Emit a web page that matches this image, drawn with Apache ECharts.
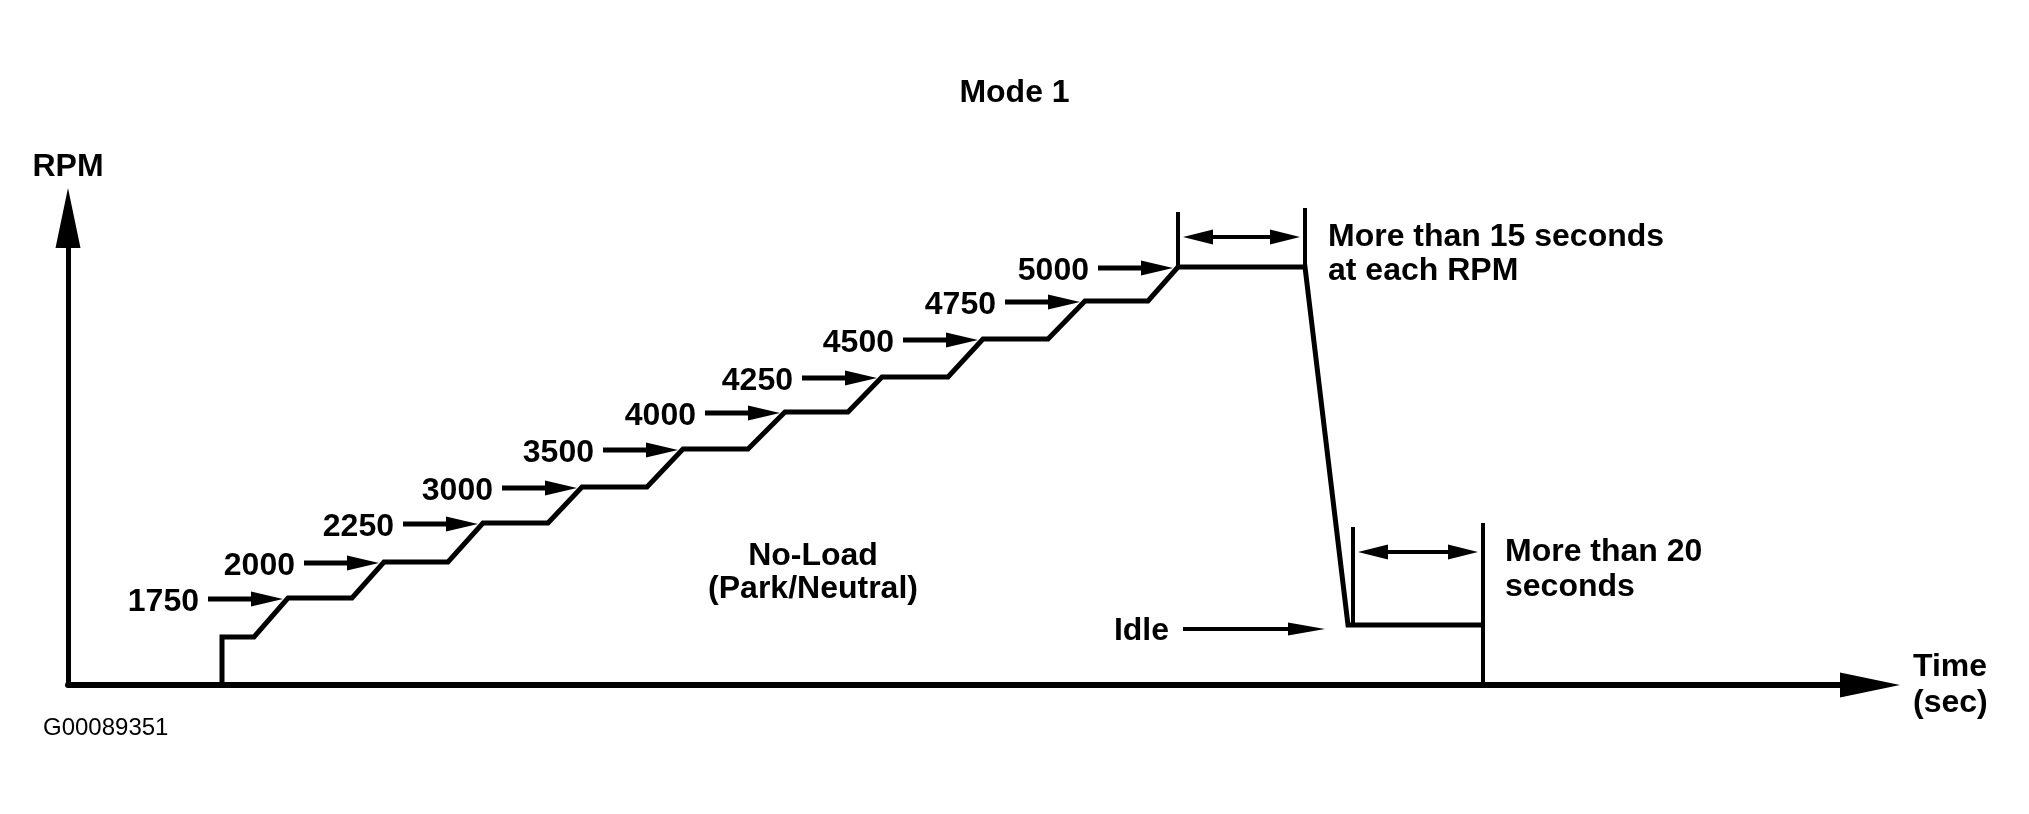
<!DOCTYPE html>
<html><head><meta charset="utf-8">
<script src="https://cdn.jsdelivr.net/npm/echarts@6/dist/echarts.min.js"></script>
<style>html,body{margin:0;padding:0;background:#fff}#c{width:2029px;height:814px}</style>
</head><body><div id="c"></div>
<script>
// ---- Data (schematic units: time along x, diagram height along y) ----
const rpmLabels = ['1750', '2000', '2250', '3000', '3500', '4000', '4250', '4500', '4750', '5000'];
const plateauHeight = [87, 123, 162, 198, 236, 273, 308, 346, 384, 418];
const plateauStart = [220, 316, 415, 514, 615, 717, 814, 915, 1017, 1110];
const plateauEnd = [284, 380, 480, 579, 680, 780, 880, 980, 1080, 1237];
const launchStep = [[154, 0], [154, 48], [186, 48]];
const idleStep = [[1280, 60], [1415, 60]];
const bracketLines = [[1110, 418, 1110, 473], [1237, 418, 1237, 477], [1285, 60, 1285, 158], [1415, 0, 1415, 162]];
const spanArrows = [[1115, 1232, 448], [1290, 1410, 133]];
const idleArrow = [[1115, 1257, 56]];
const xMax = 1802, yMax = 467;

const FONT = "'Liberation Sans', Arial, Helvetica, sans-serif";

const profile = launchStep.slice();
plateauHeight.forEach((h, i) => { profile.push([plateauStart[i], h]); profile.push([plateauEnd[i], h]); });
idleStep.forEach(p => profile.push(p));

const labelArrowData = plateauHeight.map((h, i) => [plateauStart[i], h, i]);

function headRight(x, y, len, w) {
  return { type: 'polygon', shape: { points: [[x, y], [x - len, y - w / 2], [x - len, y + w / 2]] }, style: { fill: '#000' } };
}
function headLeft(x, y, len, w) {
  return { type: 'polygon', shape: { points: [[x, y], [x + len, y - w / 2], [x + len, y + w / 2]] }, style: { fill: '#000' } };
}
function shaft(x1, x2, y, lw) {
  return { type: 'line', shape: { x1: x1, y1: y, x2: x2, y2: y }, style: { stroke: '#000', lineWidth: lw } };
}

const chart = echarts.init(document.getElementById('c'));
chart.setOption({
  animation: false,
  backgroundColor: '#fff',
  title: {
    text: 'Mode 1', left: 'center', top: 72,
    textStyle: { fontSize: 32, fontWeight: 'bold', color: '#000', fontFamily: FONT }
  },
  grid: { left: 68, right: 2029 - 68 - xMax, top: 218, bottom: 129, outerBoundsMode: 'none', containLabel: false },
  xAxis: {
    type: 'value', min: 0, max: xMax,
    name: 'Time\n(sec)', nameLocation: 'end', nameGap: 43,
    nameTextStyle: { fontSize: 32, fontWeight: 'bold', color: '#000', fontFamily: FONT, lineHeight: 36, align: 'left', verticalAlign: 'middle', padding: [14, 0, 0, 0] },
    axisLine: { show: true, onZero: false, symbol: ['none', 'triangle'], symbolSize: [25, 60], lineStyle: { color: '#000', width: 6 } },
    axisTick: { show: false }, axisLabel: { show: false }, splitLine: { show: false }
  },
  yAxis: {
    type: 'value', min: 0, max: yMax,
    name: 'RPM', nameLocation: 'end', nameGap: 35,
    nameTextStyle: { fontSize: 32, fontWeight: 'bold', color: '#000', fontFamily: FONT, align: 'center' },
    axisLine: { show: true, onZero: false, symbol: ['none', 'triangle'], symbolSize: [25, 60], lineStyle: { color: '#000', width: 5 } },
    axisTick: { show: false }, axisLabel: { show: false }, splitLine: { show: false }
  },
  graphic: [
    { type: 'text', left: 43, top: 716, style: { text: 'G00089351', font: "24px " + FONT, fill: '#000' } },
    { type: 'text', x: 813, y: 556, style: { text: 'No-Load', align: 'center', verticalAlign: 'middle', font: "bold 32px " + FONT, fill: '#000' } },
    { type: 'text', x: 813, y: 589, style: { text: '(Park/Neutral)', align: 'center', verticalAlign: 'middle', font: "bold 32px " + FONT, fill: '#000' } },
    { type: 'text', x: 1328, y: 237, style: { text: 'More than 15 seconds', align: 'left', verticalAlign: 'middle', font: "bold 32px " + FONT, fill: '#000' } },
    { type: 'text', x: 1328, y: 271, style: { text: 'at each RPM', align: 'left', verticalAlign: 'middle', font: "bold 32px " + FONT, fill: '#000' } },
    { type: 'text', x: 1505, y: 552, style: { text: 'More than 20', align: 'left', verticalAlign: 'middle', font: "bold 32px " + FONT, fill: '#000' } },
    { type: 'text', x: 1505, y: 587, style: { text: 'seconds', align: 'left', verticalAlign: 'middle', font: "bold 32px " + FONT, fill: '#000' } }
  ],
  series: [
    {
      type: 'line', data: profile, symbol: 'none', silent: true, z: 5,
      lineStyle: { color: '#000', width: 5, join: 'miter' }
    },
    {
      type: 'custom', coordinateSystem: 'cartesian2d', silent: true, z: 4,
      data: bracketLines,
      renderItem: function (params, api) {
        const a = api.coord([api.value(0), api.value(1)]);
        const b = api.coord([api.value(2), api.value(3)]);
        return { type: 'line', shape: { x1: a[0], y1: a[1], x2: b[0], y2: b[1] }, style: { stroke: '#000', lineWidth: 4 } };
      }
    },
    {
      type: 'custom', coordinateSystem: 'cartesian2d', silent: true, z: 4,
      data: spanArrows,
      renderItem: function (params, api) {
        const a = api.coord([api.value(0), api.value(2)]);
        const b = api.coord([api.value(1), api.value(2)]);
        return { type: 'group', children: [
          shaft(a[0] + 20, b[0] - 20, a[1], 4),
          headLeft(a[0], a[1], 30, 15),
          headRight(b[0], b[1], 30, 15)
        ] };
      }
    },
    {
      type: 'custom', coordinateSystem: 'cartesian2d', silent: true, z: 4,
      data: idleArrow,
      renderItem: function (params, api) {
        const a = api.coord([api.value(0), api.value(2)]);
        const b = api.coord([api.value(1), api.value(2)]);
        return { type: 'group', children: [
          shaft(a[0], b[0] - 25, a[1], 4),
          headRight(b[0], b[1], 37, 13),
          { type: 'text', style: { text: 'Idle', x: a[0] - 14, y: a[1] + 2, align: 'right', verticalAlign: 'middle', font: "bold 32px " + FONT, fill: '#000' } }
        ] };
      }
    },
    {
      type: 'custom', coordinateSystem: 'cartesian2d', silent: true, z: 4,
      data: labelArrowData,
      renderItem: function (params, api) {
        const p = api.coord([api.value(0), api.value(1)]);
        const i = api.value(2);
        const endX = p[0] - 5, startX = endX - 75, y = p[1] + 1;
        return { type: 'group', children: [
          shaft(startX, endX - 20, y, 5),
          headRight(endX, y, 32, 15),
          { type: 'text', style: { text: rpmLabels[i], x: startX - 9, y: y + 3, align: 'right', verticalAlign: 'middle', font: "bold 32px " + FONT, fill: '#000' } }
        ] };
      }
    }
  ]
});
</script>
</body></html>
